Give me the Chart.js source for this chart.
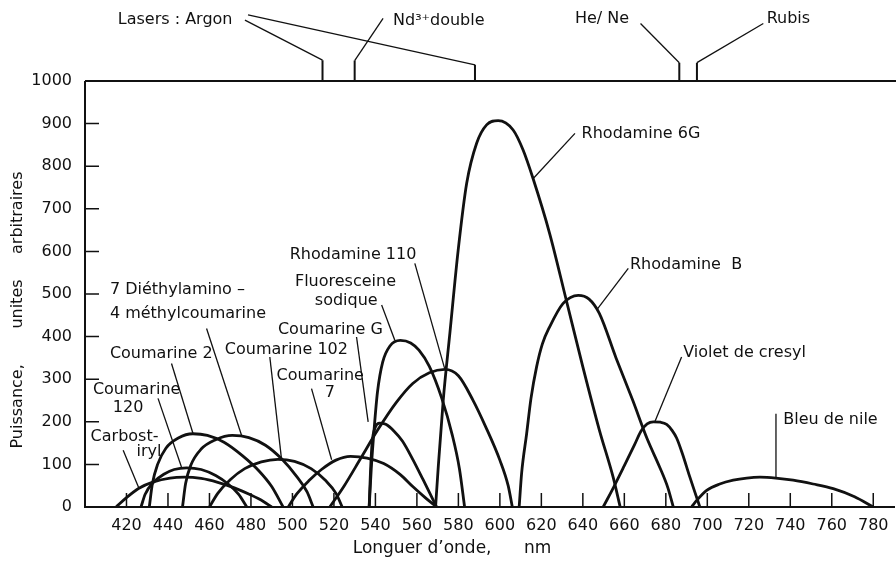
<!DOCTYPE html>
<html>
<head>
<meta charset="utf-8">
<script src="https://cdn.jsdelivr.net/npm/chart.js@4.4.0/dist/chart.umd.min.js"></script>
<style>
  html, body { margin: 0; padding: 0; background: #fff; }
  #wrap { width: 896px; height: 567px; }
</style>
</head>
<body>
<div id="wrap"><canvas id="chart" width="896" height="567"></canvas></div>
<script>
// Courbes d'accord des colorants : longueur d'onde (nm) / puissance (u.a.)
const carbostyrilX = [415, 420, 426, 433, 441, 448, 456, 464, 472, 480, 486, 490];
const carbostyrilY = [0, 22, 44, 59, 68, 70, 67, 58, 45, 28, 13, 0];

const coum120X = [427, 429, 433, 438, 443, 449, 456, 463, 469, 474, 478];
const coum120Y = [0, 30, 58, 77, 88, 92, 88, 74, 54, 30, 0];

const coum2X = [431, 432.5, 435, 439, 445, 452, 459, 467, 476, 484, 490, 495.5];
const coum2Y = [0, 55, 100, 138, 162, 172, 168, 152, 120, 84, 48, 0];

const diethylX = [447, 448.5, 451, 456, 463, 471, 479, 487, 495, 502, 507, 510];
const diethylY = [0, 55, 98, 136, 158, 168, 163, 145, 112, 72, 36, 0];

const coum102X = [460, 464, 470, 477, 485, 493, 501, 509, 516, 521, 524];
const coum102Y = [0, 32, 64, 90, 106, 112, 107, 90, 62, 32, 0];

const coum7X = [498, 502, 508, 514, 521, 528, 536, 544, 552, 558, 564, 569.5];
const coum7Y = [0, 30, 62, 88, 110, 119, 115, 102, 76, 48, 22, 0];

const coumGX = [537, 537.6, 538.4, 540, 542, 545, 549, 553, 558, 563, 569.5];
const coumGY = [0, 80, 150, 188, 197, 194, 178, 155, 112, 64, 0];

const fluoX = [537, 538, 539.5, 541, 543.5, 547, 552, 557, 561, 566, 572, 577, 580.5, 583];
const fluoY = [0, 90, 190, 270, 340, 378, 391, 385, 368, 330, 255, 170, 90, 0];

const rh110X = [518, 525, 533, 541, 550, 558, 566, 573.5, 580, 587, 593, 600, 604, 606];
const rh110Y = [0, 50, 115, 180, 245, 290, 315, 323, 308, 251, 190, 110, 50, 0];

const rh6gX = [569, 570.3, 572.7, 575.9, 579.9, 584, 588.8, 593.6, 599.2, 606.4, 611.2, 616, 624, 632, 640, 648, 654.6, 658];
const rh6gY = [0, 94, 251, 408, 603, 760, 854, 897, 907, 885, 838, 771, 642, 486, 329, 180, 70, 0];

const rhBX = [609.3, 610.5, 612.9, 615, 617.7, 620.5, 624, 630.5, 637.8, 643, 648, 656, 664, 671, 677, 681, 683.6];
const rhBY = [0, 80, 172, 255, 329, 383, 423, 478, 497, 488, 454, 350, 251, 160, 94, 45, 0];

const violetX = [649.8, 655, 660, 665, 668, 671, 674, 677.5, 680.4, 683, 685.2, 688, 691.6, 694, 696.4];
const violetY = [0, 48, 97, 147, 178, 195, 200, 199, 194, 180, 162, 125, 70, 35, 0];

const nileX = [692.4, 695, 699.7, 706, 712.5, 719, 725.4, 733, 741.4, 751, 760.7, 771, 780];
const nileY = [0, 16, 39, 54, 63, 68, 70, 68, 63, 54, 43, 24, 0];

const xTicks = [420, 440, 460, 480, 500, 520, 540, 560, 580, 600, 620, 640, 660, 680, 700, 720, 740, 760, 780];
const yTicks = [0, 100, 200, 300, 400, 500, 600, 700, 800, 900, 1000];

// raies laser (repères au-dessus du cadre)
const laserNm = [514.5, 530, 588, 686.5, 695];

const dyes = [
  ['Carbostyril', carbostyrilX, carbostyrilY],
  ['Coumarine 120', coum120X, coum120Y],
  ['Coumarine 2', coum2X, coum2Y],
  ['7 Diéthylamino-4 méthylcoumarine', diethylX, diethylY],
  ['Coumarine 102', coum102X, coum102Y],
  ['Coumarine 7', coum7X, coum7Y],
  ['Coumarine G', coumGX, coumGY],
  ['Fluoresceine sodique', fluoX, fluoY],
  ['Rhodamine 110', rh110X, rh110Y],
  ['Rhodamine 6G', rh6gX, rh6gY],
  ['Rhodamine B', rhBX, rhBY],
  ['Violet de cresyl', violetX, violetY],
  ['Bleu de nile', nileX, nileY]
];

// étiquettes : [texte, nm (bord gauche), valeur (milieu)]
const labels = [
  ['Lasers : Argon', 415.8, 1143],
  ['Nd³⁺double', 548.5, 1141],
  ['He/ Ne', 636.2, 1145],
  ['Rubis', 728.6, 1145],
  ['Rhodamine 6G', 639.4, 877],
  ['Rhodamine  B', 662.7, 568],
  ['Violet de cresyl', 688.4, 362],
  ['Bleu de nile', 736.6, 204],
  ['Rhodamine 110', 498.7, 591],
  ['Fluoresceine', 501.2, 529],
  ['sodique', 510.8, 483],
  ['Coumarine G', 493, 417],
  ['Coumarine 102', 467.4, 370],
  ['Coumarine', 492.3, 307],
  ['7', 515.6, 268],
  ['7 Diéthylamino –', 412, 509],
  ['4 méthylcoumarine', 412, 454],
  ['Coumarine 2', 412, 360],
  ['Coumarine', 403.8, 274],
  ['120', 413.4, 233],
  ['Carbost-', 402.7, 165],
  ['iryl', 424.8, 130]
];

// traits de rappel : suites de points [nm, valeur]
const leaders = [
  [[477.1, 1143], [514.5, 1049]],
  [[478.6, 1155], [588, 1038]],
  [[543.7, 1147], [530, 1048]],
  [[667.8, 1135], [686.5, 1043]],
  [[727, 1135], [695, 1043]],
  [[636.2, 877], [616.1, 771]],
  [[661.9, 560], [646.6, 462]],
  [[687.6, 352], [674.7, 200]],
  [[733.1, 219], [733.1, 70.5]],
  [[559, 572], [573.5, 323]],
  [[543, 474], [549.4, 391]],
  [[530.9, 399], [536.5, 200]],
  [[489.1, 352], [494.7, 114]],
  [[509.2, 278], [518.9, 111]],
  [[458.6, 419], [475.5, 168]],
  [[441.7, 337], [452.1, 172]],
  [[435.2, 255], [446.5, 94]],
  [[418.4, 133], [426.1, 43]]
];
const laserTop = [1049, 1048, 1038, 1043, 1043];

const ink = '#111';
const font = '16px "DejaVu Sans"';

const decor = {
  id: 'decor',
  afterDatasetsDraw(chart) {
    const { ctx, chartArea: a, scales: { x, y } } = chart;
    const px = v => x.getPixelForValue(v);
    const py = v => y.getPixelForValue(v);
    ctx.save();
    ctx.strokeStyle = ink;
    ctx.fillStyle = ink;

    // cadre : axe gauche, axe bas, ligne du haut
    ctx.lineWidth = 2;
    ctx.beginPath();
    ctx.moveTo(a.left, a.top);
    ctx.lineTo(a.left, a.bottom);
    ctx.lineTo(chart.width - 1, a.bottom);
    ctx.moveTo(a.left, a.top);
    ctx.lineTo(chart.width, a.top);
    ctx.stroke();

    // graduations vers l'intérieur
    ctx.lineWidth = 1.5;
    ctx.beginPath();
    xTicks.forEach(v => { ctx.moveTo(px(v), a.bottom); ctx.lineTo(px(v), a.bottom - 14); });
    yTicks.slice(1, -1).forEach(v => { ctx.moveTo(a.left, py(v)); ctx.lineTo(a.left + 14, py(v)); });
    ctx.stroke();

    // repères laser
    ctx.lineWidth = 2;
    ctx.beginPath();
    laserNm.forEach((v, i) => { ctx.moveTo(px(v), py(1000)); ctx.lineTo(px(v), py(laserTop[i])); });
    ctx.stroke();

    // traits de rappel
    ctx.lineWidth = 1.3;
    leaders.forEach(pts => {
      ctx.beginPath();
      pts.forEach(([u, v], i) => i ? ctx.lineTo(px(u), py(v)) : ctx.moveTo(px(u), py(v)));
      ctx.stroke();
    });

    // étiquettes
    ctx.font = font;
    ctx.textAlign = 'left';
    ctx.textBaseline = 'middle';
    labels.forEach(([t, u, v]) => ctx.fillText(t, px(u), py(v)));

    // titres des axes
    ctx.font = '17px "DejaVu Sans"';
    ctx.textAlign = 'center';
    ctx.fillText('Longuer d’onde,      nm', 452, 549);
    ctx.font = font;
    ctx.translate(18, 310);
    ctx.rotate(-Math.PI / 2);
    ctx.fillText('Puissance,       unites     arbitraires', 0, 0);
    ctx.restore();
  }
};

const tickFont = { family: 'DejaVu Sans', size: 16 };

new Chart(document.getElementById('chart'), {
  type: 'line',
  data: {
    datasets: dyes.map(([name, xs, ys]) => ({
      label: name,
      data: xs.map((v, i) => ({ x: v, y: ys[i] })),
      borderColor: ink,
      borderWidth: 2.8,
      pointRadius: 0,
      fill: false,
      cubicInterpolationMode: 'monotone'
    }))
  },
  options: {
    responsive: false,
    animation: false,
    layout: { padding: { top: 81, right: 2, left: 0, bottom: 0 } },
    plugins: { legend: { display: false }, tooltip: { enabled: false } },
    scales: {
      x: {
        type: 'linear',
        min: 400,
        max: 790,
        afterBuildTicks: s => { s.ticks = xTicks.map(v => ({ value: v })); },
        afterFit: s => { s.height = 60; },
        grid: { display: false },
        border: { display: false },
        ticks: { font: tickFont, color: ink, padding: 1, maxRotation: 0, autoSkip: false, callback: v => String(v) }
      },
      y: {
        type: 'linear',
        min: 0,
        max: 1000,
        afterBuildTicks: s => { s.ticks = yTicks.map(v => ({ value: v })); },
        afterFit: s => { s.width = 85; },
        grid: { display: false },
        border: { display: false },
        ticks: { font: tickFont, color: ink, padding: 5, autoSkip: false, callback: v => String(v) }
      }
    }
  },
  plugins: [decor]
});
</script>
</body>
</html>
